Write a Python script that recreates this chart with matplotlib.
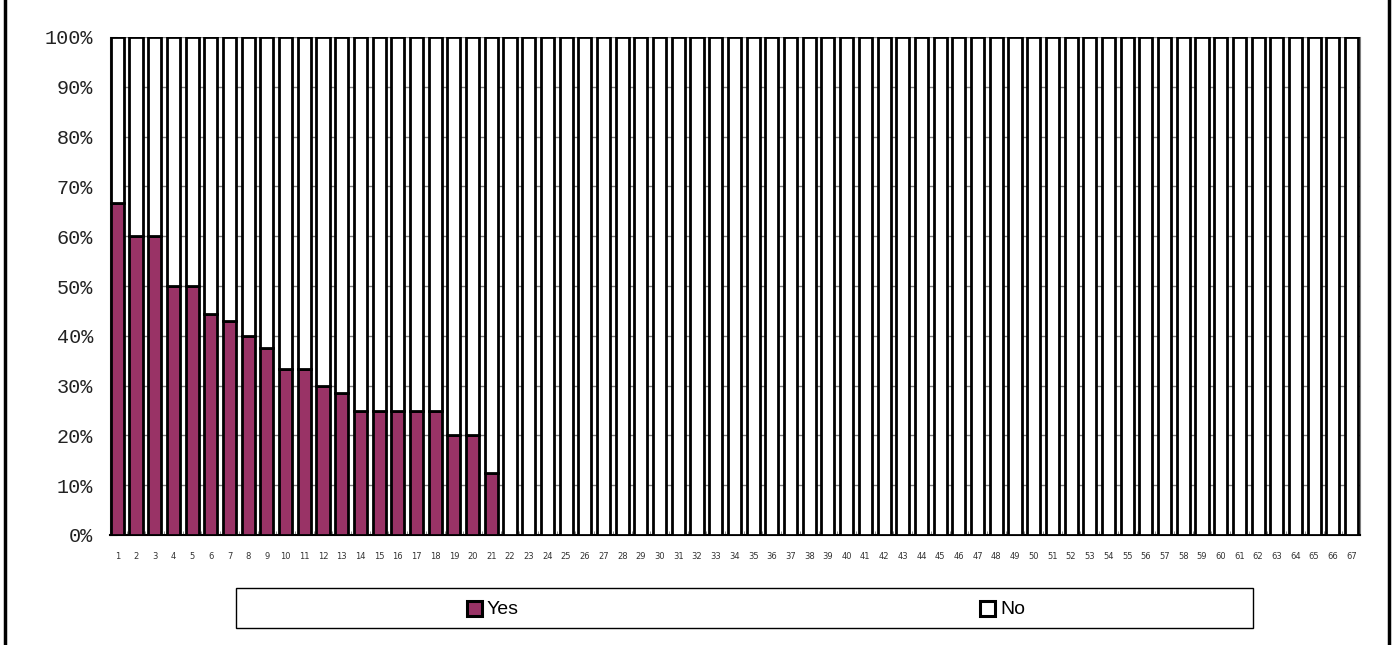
import numpy as np
import matplotlib
matplotlib.use('Agg')
import matplotlib.pyplot as plt
from matplotlib.patches import Rectangle
from matplotlib.lines import Line2D

# data: share of "Yes" per item (percent), rest is "No"
categories = list(range(1, 68))
yes_pct = [66.7, 60, 60, 50, 50, 44.4, 42.9, 40, 37.5, 33.3, 33.3, 30, 28.6,
           25, 25, 25, 25, 25, 20, 20, 12.5] + [0] * 46
no_pct = [100 - v for v in yes_pct]
series_names = ['Yes', 'No']
series_colors = ['#993366', '#ffffff']

W, H = 1394, 645
fig = plt.figure(figsize=(W / 100, H / 100), dpi=100)
ax = fig.add_axes([110 / W, 1 - 535 / H, 1250 / W, 498 / H])

x = np.array(categories)
bw = 0.7
ax.bar(x, yes_pct, width=bw, color=series_colors[0], edgecolor='black', linewidth=2, zorder=3)
ax.bar(x, no_pct, width=bw, bottom=yes_pct, color=series_colors[1], edgecolor='black',
       linewidth=2, zorder=3)

ax.set_xlim(1 - bw / 2 - 0.04, 67 + bw / 2 + 0.1)
ax.set_ylim(0, 100)

# y axis
ax.set_yticks(range(0, 101, 10))
ax.set_yticklabels([f'{v}%' for v in range(0, 101, 10)], family='Liberation Mono',
                   fontsize=14.5, color='#222222')
ax.yaxis.grid(True, color='#808080', linewidth=1, zorder=0)
ax.tick_params(axis='y', direction='in', length=5, color='#808080', pad=12)

# x axis: labels at bar centres, small ticks between bars
ax.set_xticks(x)
ax.set_xticklabels([str(c) for c in categories], fontsize=6, color='#333333')
ax.set_xticks(x[:-1] + 0.5, minor=True)
ax.tick_params(axis='x', which='major', length=0, pad=12)
ax.tick_params(axis='x', which='minor', direction='in', length=3, color='#808080')

for side in ['left', 'right', 'top']:
    ax.spines[side].set_color('#808080')
ax.spines['top'].set_visible(False)
ax.spines['bottom'].set_color('black')
ax.spines['bottom'].set_linewidth(1.5)

# legend box
fig.add_artist(Rectangle((236 / W, 1 - 628 / H), (1253 - 236) / W, 40 / H,
                         transform=fig.transFigure, facecolor='white',
                         edgecolor='black', linewidth=1))
for name, col, hx in zip(series_names, series_colors, [467, 980]):
    fig.add_artist(Rectangle((hx / W, 1 - 616 / H), 15 / W, 15 / H,
                             transform=fig.transFigure, facecolor=col,
                             edgecolor='black', linewidth=2.2))
    fig.text((hx + 20) / W, 1 - 609 / H, name, fontsize=14, va='center', ha='left',
             family='Liberation Sans')

# border lines at left and right
fig.add_artist(Line2D([5 / W, 5 / W], [0, 1], color='black', linewidth=2.5))
fig.add_artist(Line2D([1389 / W, 1389 / W], [0, 1], color='black', linewidth=2.5))

fig.savefig('out.png', dpi=100)
